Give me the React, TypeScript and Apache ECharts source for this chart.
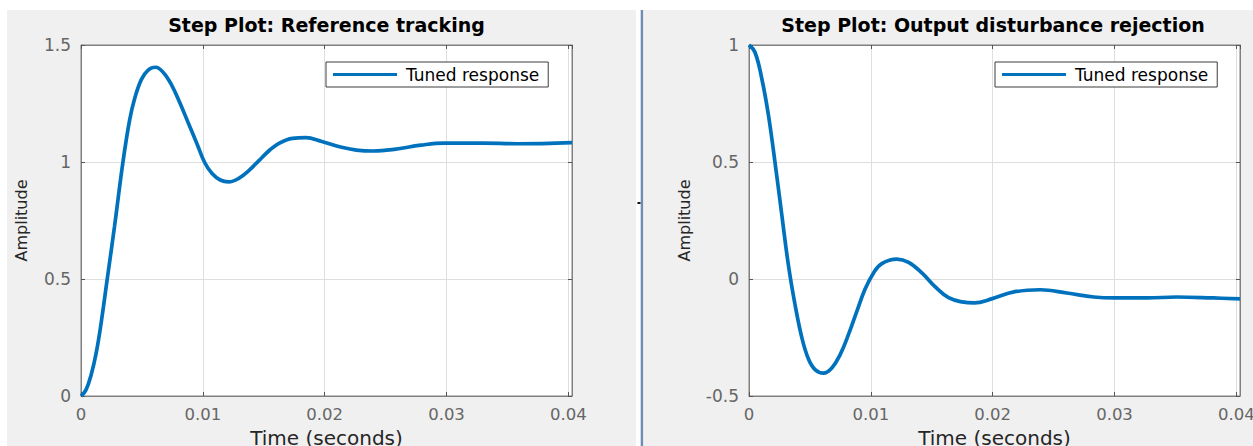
import React, { useEffect, useRef } from "react";
import * as echarts from "echarts";

// Reference tracking (left panel)
const refTime = [0, 0.00041, 0.00083, 0.00124, 0.00165, 0.00215, 0.00275, 0.00344, 0.00399, 0.00441, 0.00496, 0.00551, 0.00612, 0.00675, 0.00744, 0.00813, 0.00882, 0.0095, 0.01014, 0.01074, 0.01143, 0.01212, 0.01295, 0.01377, 0.0146, 0.01543, 0.01625, 0.01736, 0.01846, 0.0197, 0.0213, 0.0226, 0.024, 0.0257, 0.0279, 0.0298, 0.033, 0.0358, 0.0403];
const refValue = [0, 0.026, 0.09, 0.182, 0.311, 0.499, 0.724, 0.999, 1.179, 1.272, 1.353, 1.393, 1.405, 1.383, 1.329, 1.251, 1.165, 1.08, 0.999, 0.952, 0.923, 0.915, 0.93, 0.963, 1.006, 1.048, 1.08, 1.101, 1.104, 1.089, 1.064, 1.051, 1.047, 1.054, 1.072, 1.081, 1.081, 1.078, 1.083];

// Output disturbance rejection (right panel)
const distTime = [0, 0.00049, 0.00104, 0.00159, 0.00214, 0.00268, 0.00323, 0.00378, 0.00433, 0.00488, 0.00542, 0.00611, 0.0068, 0.00748, 0.00816, 0.00885, 0.00953, 0.01022, 0.0109, 0.01214, 0.0131, 0.01419, 0.01529, 0.01638, 0.0175, 0.0185, 0.01997, 0.02175, 0.0239, 0.0261, 0.0283, 0.03, 0.0327, 0.0351, 0.0381, 0.0403];
const distValue = [1, 0.969, 0.859, 0.702, 0.496, 0.279, 0.061, -0.11, -0.249, -0.342, -0.387, -0.402, -0.38, -0.323, -0.238, -0.138, -0.043, 0.026, 0.066, 0.085, 0.071, 0.026, -0.034, -0.08, -0.098, -0.102, -0.084, -0.055, -0.046, -0.06, -0.077, -0.081, -0.081, -0.077, -0.081, -0.085];

const titles = ["Step Plot: Reference tracking", "Step Plot: Output disturbance rejection"];
const seriesName = "Tuned response";
const xName = "Time (seconds)";
const yName = "Amplitude";

const FONT = "DejaVu Sans";
const LINE = "#0072BD";
const FRAME = "#808080";
const GRIDC = "#dedede";

function bottomX(gridIndex: number) {
  return {
    type: "value",
    gridIndex,
    min: 0,
    max: 0.0403,
    interval: 0.01,
    axisLine: { show: true, onZero: false, lineStyle: { color: FRAME, width: 1 } },
    axisTick: { show: true, inside: true, length: 4, lineStyle: { color: "#555" } },
    axisLabel: { color: "#666", fontSize: 16.5, fontFamily: FONT, margin: 10, showMaxLabel: false },
    splitLine: { show: true, lineStyle: { color: GRIDC, width: 1 } },
    name: xName,
    nameLocation: "middle",
    nameGap: 31,
    nameTextStyle: { color: "#262626", fontSize: 20, fontFamily: FONT },
  };
}
function topX(gridIndex: number) {
  return {
    type: "value",
    gridIndex,
    position: "top",
    min: 0,
    max: 0.0403,
    interval: 0.01,
    axisLine: { show: true, onZero: false, lineStyle: { color: FRAME, width: 1 } },
    axisTick: { show: true, inside: true, length: 4, lineStyle: { color: "#555" } },
    axisLabel: { show: false },
    splitLine: { show: false },
  };
}
function leftY(gridIndex: number, min: number, max: number, gap: number) {
  return {
    type: "value",
    gridIndex,
    min,
    max,
    interval: 0.5,
    axisLine: { show: true, onZero: false, lineStyle: { color: FRAME, width: 1 } },
    axisTick: { show: true, inside: true, length: 4, lineStyle: { color: "#555" } },
    axisLabel: { color: "#666", fontSize: 17, fontFamily: FONT, margin: 10 },
    splitLine: { show: true, lineStyle: { color: GRIDC, width: 1 } },
    name: yName,
    nameLocation: "middle",
    nameGap: gap,
    nameTextStyle: { color: "#262626", fontSize: 16, fontFamily: FONT },
  };
}
function rightY(gridIndex: number, min: number, max: number) {
  return {
    type: "value",
    gridIndex,
    position: "right",
    min,
    max,
    interval: 0.5,
    axisLine: { show: true, onZero: false, lineStyle: { color: FRAME, width: 1 } },
    axisTick: { show: true, inside: true, length: 4, lineStyle: { color: "#555" } },
    axisLabel: { show: false },
    splitLine: { show: false },
  };
}
function legend(left: number) {
  return {
    show: true,
    left,
    top: 62,
    data: [seriesName],
    icon: "rect",
    itemWidth: 64,
    itemHeight: 3,
    backgroundColor: "#ffffff",
    borderColor: "#3c3c3c",
    borderWidth: 1,
    borderRadius: 0,
    padding: [3, 9, 3, 7],
    textStyle: { color: "#000", fontSize: 17, fontFamily: FONT, lineHeight: 19, padding: [0, 0, 0, 4] },
    selectedMode: false,
  };
}

export default function App() {
  const ref = useRef<HTMLDivElement>(null);
  useEffect(() => {
    if (!ref.current) return;
    const chart = echarts.init(ref.current, null, { renderer: "svg" });
    const refData = refTime.map((t, i) => [t, refValue[i]]);
    const distData = distTime.map((t, i) => [t, distValue[i]]);
    chart.setOption({
      animation: false,
      backgroundColor: "#ffffff",
      grid: [
        { left: 81, top: 45, width: 491, height: 351, show: true, backgroundColor: "#ffffff", borderColor: FRAME, borderWidth: 1, outerBoundsMode: "none", containLabel: false },
        { left: 749, top: 45, width: 491, height: 351, show: true, backgroundColor: "#ffffff", borderColor: FRAME, borderWidth: 1, outerBoundsMode: "none", containLabel: false },
      ],
      xAxis: [bottomX(0), topX(0), bottomX(1), topX(1)],
      yAxis: [leftY(0, 0, 1.5, 52), rightY(0, 0, 1.5), leftY(1, -0.5, 1, 57), rightY(1, -0.5, 1)],
      legend: [legend(326), legend(995)],
      graphic: [
        { type: "rect", z: -100, silent: true, shape: { x: 7, y: 10, width: 629, height: 436 }, style: { fill: "#f0f0f0" } },
        { type: "rect", z: -100, silent: true, shape: { x: 643, y: 10, width: 610, height: 436 }, style: { fill: "#f0f0f0" } },
        { type: "rect", z: -99, silent: true, shape: { x: 640.7, y: 10, width: 2.4, height: 436 }, style: { fill: "#6d8db4" } },
        { type: "rect", z: -99, silent: true, shape: { x: 637.5, y: 202, width: 3, height: 2 }, style: { fill: "#111" } },
        { type: "text", x: 326.5, y: 25, style: { text: titles[0], fill: "#000", font: `bold 19px "${FONT}"`, textAlign: "center", textVerticalAlign: "middle" } },
        { type: "text", x: 993, y: 25, style: { text: titles[1], fill: "#000", font: `bold 19px "${FONT}"`, textAlign: "center", textVerticalAlign: "middle" } },
      ],
      series: [
        {
          name: seriesName,
          type: "line",
          xAxisIndex: 0,
          yAxisIndex: 0,
          data: refData,
          showSymbol: false,
          smooth: 0.4,
          lineStyle: { color: LINE, width: 3.7 },
          itemStyle: { color: LINE },
        },
        {
          name: seriesName,
          type: "line",
          xAxisIndex: 2,
          yAxisIndex: 2,
          data: distData,
          showSymbol: false,
          smooth: 0.4,
          lineStyle: { color: LINE, width: 3.7 },
          itemStyle: { color: LINE },
        },
      ],
    });
    return () => chart.dispose();
  }, []);
  return <div ref={ref} style={{ position: "fixed", left: 0, top: 0, width: 1253, height: 446 }} />;
}
